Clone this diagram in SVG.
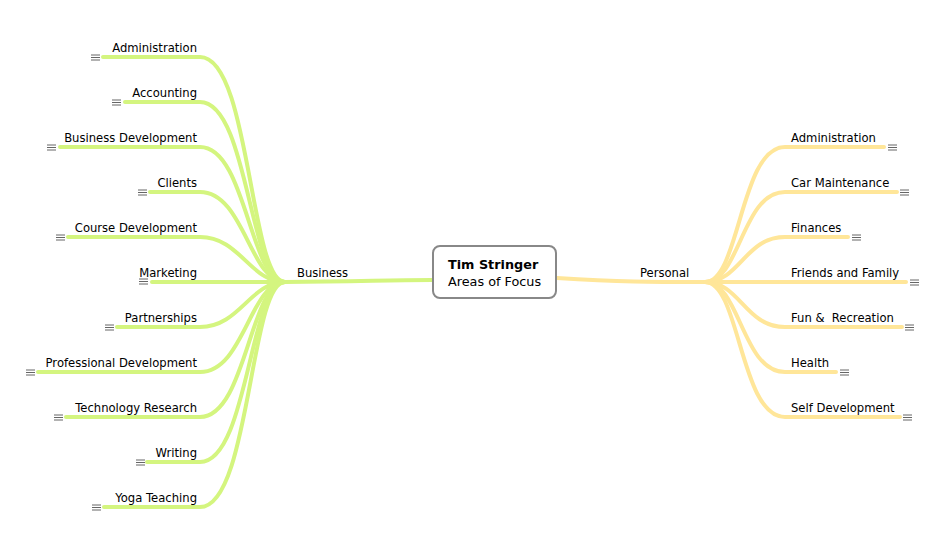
<svg xmlns="http://www.w3.org/2000/svg" width="946" height="550" viewBox="0 0 946 550">
<style>
text{font-family:"DejaVu Sans",sans-serif;font-size:11.6px;fill:#000}
.c{font-size:12.8px}
.g{fill:none;stroke:#d4f57f;stroke-width:4;stroke-linecap:round}
.y{fill:none;stroke:#ffe699;stroke-width:4;stroke-linecap:round}
.l{text-anchor:end}
</style>
<defs><g id="n"><path d="M0 0h9M0 2.5h9M0 5h9" stroke="#666" stroke-width="1"/></g></defs>
<rect width="946" height="550" fill="#fff"/>
<g id="connectors">
<path class="g" d="M432 280 C380 280 360 282 285 282"/>
<path class="g" d="M103 57H200C250 57 250 282 285 282"/>
<path class="g" d="M125 102H200C248 102 250 282 285 282"/>
<path class="g" d="M60 147H200C246 147 250 282 285 282"/>
<path class="g" d="M150 192H200C244 192 250 282 285 282"/>
<path class="g" d="M68 237H200C240 237 250 282 285 282"/>
<path class="g" d="M152 282H285"/>
<path class="g" d="M117 327H200C240 327 250 282 285 282"/>
<path class="g" d="M38 372H200C244 372 250 282 285 282"/>
<path class="g" d="M66 417H200C246 417 250 282 285 282"/>
<path class="g" d="M147 462H200C248 462 250 282 285 282"/>
<path class="g" d="M104 507H200C250 507 250 282 285 282"/>
<path class="y" d="M557 278 C620 282 650 282 705 282"/>
<path class="y" d="M884 147H785C740 147 740 282 705 282"/>
<path class="y" d="M897 192H785C742 192 740 282 705 282"/>
<path class="y" d="M848 237H785C745 237 740 282 705 282"/>
<path class="y" d="M906 282H705"/>
<path class="y" d="M902 327H785C745 327 740 282 705 282"/>
<path class="y" d="M836 372H785C742 372 740 282 705 282"/>
<path class="y" d="M900 417H785C740 417 740 282 705 282"/>
</g>
<g id="center"><rect x="433" y="246" width="123" height="52" rx="7" fill="#fff" stroke="#888" stroke-width="2"/>
<text class="c" x="448" y="269" font-weight="bold">Tim Stringer</text><text class="c" x="448" y="286">Areas of Focus</text></g>
<g id="business"><text x="297" y="277">Business</text></g>
<g id="personal"><text x="640" y="277">Personal</text></g>
<g id="left">
<text class="l" x="197" y="52">Administration</text><use href="#n" x="91" y="55"/>
<text class="l" x="197" y="97">Accounting</text><use href="#n" x="112" y="100"/>
<text class="l" x="197" y="142">Business Development</text><use href="#n" x="47" y="145"/>
<text class="l" x="197" y="187">Clients</text><use href="#n" x="138" y="190"/>
<text class="l" x="197" y="232">Course Development</text><use href="#n" x="56" y="235"/>
<text class="l" x="197" y="277">Marketing</text><use href="#n" x="139" y="279"/>
<text class="l" x="197" y="322">Partnerships</text><use href="#n" x="105" y="325"/>
<text class="l" x="197" y="367">Professional Development</text><use href="#n" x="26" y="370"/>
<text class="l" x="197" y="412">Technology Research</text><use href="#n" x="54" y="415"/>
<text class="l" x="197" y="457">Writing</text><use href="#n" x="136" y="460"/>
<text class="l" x="197" y="502">Yoga Teaching</text><use href="#n" x="92" y="505"/>
</g>
<g id="right">
<text x="791" y="142">Administration</text><use href="#n" x="888" y="145"/>
<text x="791" y="187">Car Maintenance</text><use href="#n" x="900" y="190"/>
<text x="791" y="232">Finances</text><use href="#n" x="852" y="235"/>
<text x="791" y="277">Friends and Family</text><use href="#n" x="910" y="280"/>
<text x="791" y="322" xml:space="preserve">Fun &amp;  Recreation</text><use href="#n" x="905" y="325"/>
<text x="791" y="367">Health</text><use href="#n" x="840" y="370"/>
<text x="791" y="412">Self Development</text><use href="#n" x="903" y="415"/>
</g>
</svg>
